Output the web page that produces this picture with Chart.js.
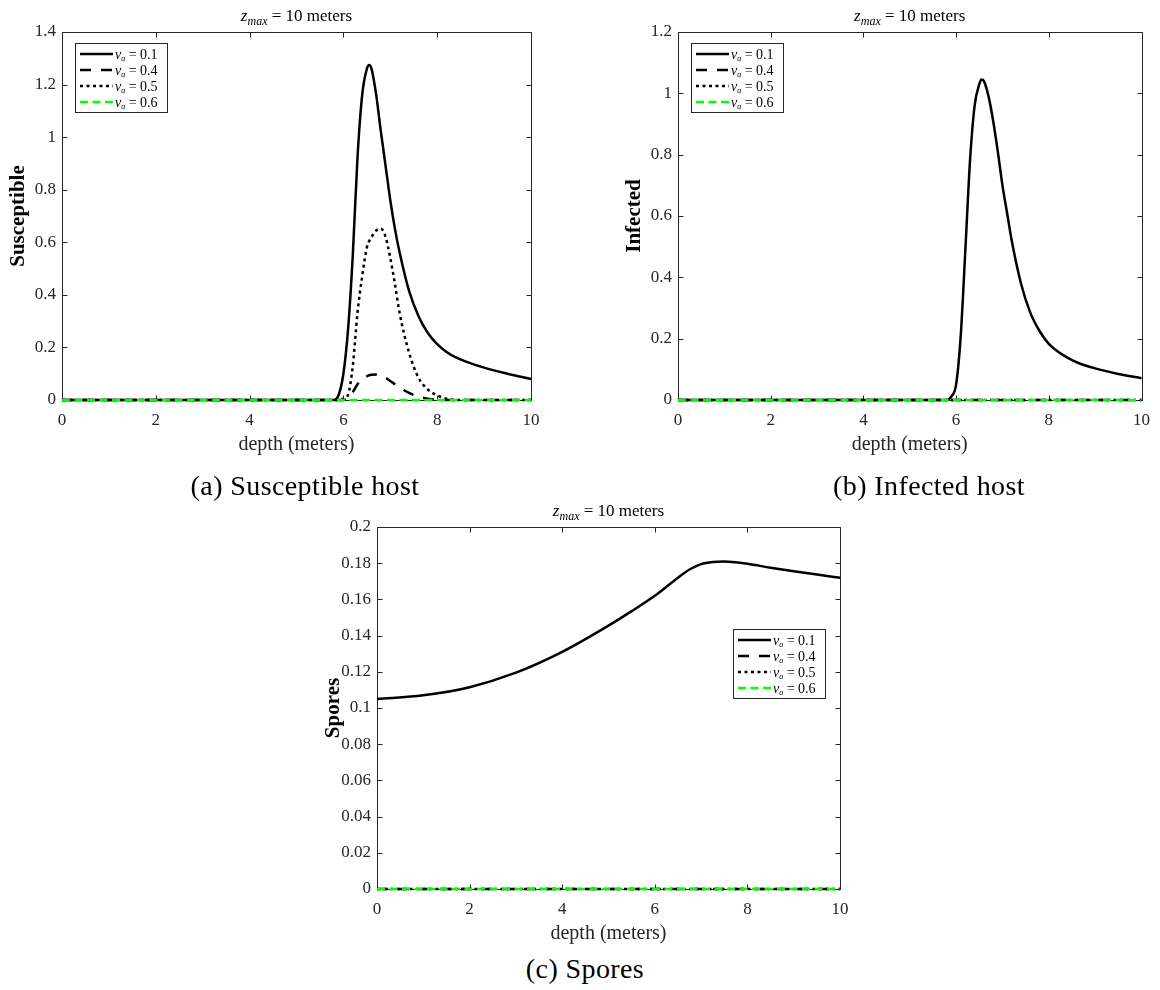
<!DOCTYPE html>
<html lang="en">
<head>
  <meta charset="utf-8">
  <title>Host and spore profiles against depth</title>
  <script src="https://cdn.jsdelivr.net/npm/chart.js@4.4.0/dist/chart.umd.min.js"></script>
  <style>
    body { margin: 0; background: #fff; width: 1160px; height: 990px; position: relative; overflow: hidden;
           font-family: "Liberation Serif", "Times New Roman", serif; }
    canvas { position: absolute; }
    .caption { position: absolute; font-size: 28px; letter-spacing: 0.4px; color: #000; white-space: nowrap; transform: translate(-50%, -50%); }
  </style>
</head>
<body>

  <canvas id="chartS" width="560" height="460" style="left:0;top:0"></canvas>
  <canvas id="chartI" width="544" height="460" style="left:616px;top:0"></canvas>
  <canvas id="chartP" width="560" height="454" style="left:315px;top:495px"></canvas>

  <div class="caption" style="left:305px;top:486px">(a) Susceptible host</div>
  <div class="caption" style="left:929px;top:486px">(b) Infected host</div>
  <div class="caption" style="left:585px;top:969px">(c) Spores</div>

  <script>
    // settling velocities shown in every panel
    var velocities = ['0.1', '0.4', '0.5', '0.6'];

    // (a) susceptible host
    var depthS = [0, 2, 4, 5.8, 5.9, 6.0, 6.1, 6.2, 6.3, 6.4, 6.5, 6.55, 6.6, 6.7, 6.8, 6.9, 7.0, 7.1, 7.2, 7.4, 7.6, 7.8, 8.0, 8.2, 8.4, 8.6, 9.0, 9.5, 10];
    var susceptible01 = [0, 0, 0, 0, 0.02, 0.10, 0.27, 0.55, 0.92, 1.16, 1.26, 1.274, 1.26, 1.16, 1.02, 0.89, 0.76, 0.65, 0.56, 0.415, 0.32, 0.255, 0.213, 0.183, 0.162, 0.147, 0.123, 0.10, 0.08];
    var susceptible04 = [0, 0, 0, 0, 0, 0, 0.008, 0.03, 0.06, 0.08, 0.09, 0.094, 0.096, 0.097, 0.093, 0.085, 0.072, 0.06, 0.047, 0.027, 0.013, 0.005, 0.001, 0, 0, 0, 0, 0, 0];
    var susceptible05 = [0, 0, 0, 0, 0, 0.005, 0.02, 0.13, 0.33, 0.47, 0.58, 0.605, 0.62, 0.645, 0.652, 0.62, 0.54, 0.44, 0.33, 0.18, 0.085, 0.04, 0.018, 0.005, 0, 0, 0, 0, 0];
    var susceptible06 = [0, 0, 0, 0, 0, 0, 0, 0, 0, 0, 0, 0, 0, 0, 0, 0, 0, 0, 0, 0, 0, 0, 0, 0, 0, 0, 0, 0, 0];

    // (b) infected host
    var depthI = [0, 2, 4, 5.8, 5.9, 6.0, 6.1, 6.2, 6.3, 6.4, 6.5, 6.55, 6.6, 6.7, 6.8, 6.9, 7.0, 7.1, 7.2, 7.4, 7.6, 7.8, 8.0, 8.2, 8.4, 8.6, 9.0, 9.5, 10];
    var infected01 = [0, 0, 0, 0, 0.012, 0.05, 0.21, 0.49, 0.78, 0.96, 1.03, 1.045, 1.04, 0.99, 0.91, 0.81, 0.70, 0.61, 0.52, 0.38, 0.285, 0.225, 0.183, 0.157, 0.138, 0.123, 0.103, 0.085, 0.071];
    var infected04 = [0, 0, 0, 0, 0, 0, 0, 0, 0, 0, 0, 0, 0, 0, 0, 0, 0, 0, 0, 0, 0, 0, 0, 0, 0, 0, 0, 0, 0];
    var infected05 = [0, 0, 0, 0, 0, 0, 0, 0, 0, 0, 0, 0, 0, 0, 0, 0, 0, 0, 0, 0, 0, 0, 0, 0, 0, 0, 0, 0, 0];
    var infected06 = [0, 0, 0, 0, 0, 0, 0, 0, 0, 0, 0, 0, 0, 0, 0, 0, 0, 0, 0, 0, 0, 0, 0, 0, 0, 0, 0, 0, 0];

    // (c) spores
    var depthP = [0, 1, 2, 3, 4, 5, 5.5, 6, 6.5, 6.75, 7, 7.25, 7.5, 8, 8.5, 9, 9.5, 10];
    var spores01 = [0.105, 0.107, 0.1115, 0.1195, 0.131, 0.1455, 0.1535, 0.162, 0.172, 0.1765, 0.1795, 0.1807, 0.181, 0.1797, 0.1775, 0.1755, 0.1737, 0.172];
    var spores04 = [0, 0, 0, 0, 0, 0, 0, 0, 0, 0, 0, 0, 0, 0, 0, 0, 0, 0];
    var spores05 = [0, 0, 0, 0, 0, 0, 0, 0, 0, 0, 0, 0, 0, 0, 0, 0, 0, 0];
    var spores06 = [0, 0, 0, 0, 0, 0, 0, 0, 0, 0, 0, 0, 0, 0, 0, 0, 0, 0];

    var xTicks = [0, 2, 4, 6, 8, 10];

    var SERIF = '"Liberation Serif", "Times New Roman", serif';
    var INK = '#262626';

    // line look per velocity: solid, dashed, dotted, green dashed
    var lineStyles = [
      { color: '#000000', dash: [] },
      { color: '#000000', dash: [11, 10] },
      { color: '#000000', dash: [3, 3.5] },
      { color: '#00ff00', dash: [8, 4.5] }
    ];

    // draws text pieces like v_a or z_max with italic and subscripts
    function mathText(ctx, parts, x, y, align) {
      var total = 0;
      parts.forEach(function (p) {
        ctx.font = (p.italic ? 'italic ' : '') + p.size + 'px ' + SERIF;
        p.w = ctx.measureText(p.t).width;
        total += p.w;
      });
      var cx = align === 'center' ? x - total / 2 : x;
      ctx.textBaseline = 'alphabetic';
      ctx.textAlign = 'left';
      parts.forEach(function (p) {
        ctx.font = (p.italic ? 'italic ' : '') + p.size + 'px ' + SERIF;
        ctx.fillText(p.t, cx, y + (p.sub ? p.drop : 0));
        cx += p.w;
      });
    }

    // axes box with inward ticks on all four sides, heading and legend
    var framePlugin = {
      id: 'frame',
      beforeDatasetsDraw: function (chart) {
        var ctx = chart.ctx, a = chart.chartArea;
        var sx = chart.scales.x, sy = chart.scales.y;
        var L = Math.round(a.left) + 0.5, R = Math.round(a.right) + 0.5;
        var T = Math.round(a.top) + 0.5, B = Math.round(a.bottom) + 0.5;
        ctx.save();
        ctx.strokeStyle = INK;
        ctx.lineWidth = 1;
        ctx.beginPath();
        ctx.rect(L, T, R - L, B - T);
        sx.ticks.forEach(function (t) {
          var px = Math.round(sx.getPixelForValue(t.value)) + 0.5;
          ctx.moveTo(px, B); ctx.lineTo(px, B - 5);
          ctx.moveTo(px, T); ctx.lineTo(px, T + 5);
        });
        sy.ticks.forEach(function (t) {
          var py = Math.round(sy.getPixelForValue(t.value)) + 0.5;
          ctx.moveTo(L, py); ctx.lineTo(L + 5, py);
          ctx.moveTo(R, py); ctx.lineTo(R - 5, py);
        });
        ctx.stroke();
        ctx.restore();
      },
      afterDraw: function (chart) {
        var ctx = chart.ctx, a = chart.chartArea;
        ctx.save();
        ctx.fillStyle = '#000';
        // panel heading
        mathText(ctx, [
          { t: 'z', italic: true, size: 17 },
          { t: 'max', italic: true, size: 12, sub: true, drop: 4 },
          { t: ' = 10 meters', size: 17 }
        ], (a.left + a.right) / 2, a.top - 11, 'center');

        // legend box
        var o = chart.options.plugins.frame;
        var w = 92, h = 69;
        var left = o.side === 'right' ? a.right - o.dx - w : a.left + o.dx;
        var top = a.top + o.dy;
        ctx.fillStyle = '#fff';
        ctx.fillRect(left, top, w, h);
        ctx.strokeStyle = INK;
        ctx.lineWidth = 1;
        ctx.strokeRect(Math.round(left) + 0.5, Math.round(top) + 0.5, w, h);
        chart.data.datasets.forEach(function (ds, i) {
          var yy = top + 11 + i * 16;
          ctx.strokeStyle = ds.borderColor;
          ctx.lineWidth = ds.borderWidth;
          ctx.setLineDash(ds.borderDash);
          ctx.beginPath();
          ctx.moveTo(left + 5, yy);
          ctx.lineTo(left + 38, yy);
          ctx.stroke();
          ctx.setLineDash([]);
          ctx.fillStyle = '#000';
          mathText(ctx, [
            { t: 'v', italic: true, size: 14 },
            { t: 'a', italic: true, size: 8, sub: true, drop: 2 },
            { t: ' = ' + velocities[i], size: 14 }
          ], left + 40, yy + 4.5, 'left');
        });
        ctx.restore();
      }
    };

    function makePanel(id, depth, series, yMax, yStep, yTitle, legend) {
      var datasets = series.map(function (vals, i) {
        return {
          label: 'v_a = ' + velocities[i],
          data: vals.map(function (v, k) { return { x: depth[k], y: v }; }),
          borderColor: lineStyles[i].color,
          borderDash: lineStyles[i].dash,
          borderWidth: 2.5,
          pointRadius: 0,
          fill: false,
          cubicInterpolationMode: 'monotone',
          clip: false,
          order: series.length - i
        };
      });

      return new Chart(document.getElementById(id), {
        type: 'line',
        data: { datasets: datasets },
        options: {
          responsive: false,
          animation: false,
          layout: { padding: { top: 32, right: legend.padRight, bottom: 0, left: 0 } },
          plugins: {
            legend: { display: false },
            tooltip: { enabled: false },
            frame: legend
          },
          scales: {
            x: {
              type: 'linear',
              min: 0,
              max: 10,
              afterBuildTicks: function (scale) {
                scale.ticks = xTicks.map(function (v) { return { value: v }; });
              },
              afterFit: function (scale) { scale.height = legend.xHeight; },
              grid: { display: false, drawTicks: false },
              border: { display: false },
              ticks: {
                padding: 10,
                color: INK,
                font: { family: SERIF, size: 17 },
                maxRotation: 0
              },
              title: {
                display: true,
                text: 'depth (meters)',
                color: INK,
                font: { family: SERIF, size: 20, lineHeight: 1.2 },
                padding: { top: 0, bottom: 3.5 }
              }
            },
            y: {
              type: 'linear',
              min: 0,
              max: yMax,
              afterFit: function (scale) { scale.width = 62; },
              grid: { display: false, drawTicks: false },
              border: { display: false },
              ticks: {
                stepSize: yStep,
                padding: 6,
                color: INK,
                font: { family: SERIF, size: 17 },
                callback: function (v) { return String(+v.toFixed(2)); }
              },
              title: {
                display: true,
                text: yTitle,
                color: '#000',
                font: { family: SERIF, size: 21, weight: 'bold', lineHeight: 1.2 },
                padding: { top: 6, bottom: 0 }
              }
            }
          }
        },
        plugins: [framePlugin]
      });
    }

    makePanel('chartS', depthS, [susceptible01, susceptible04, susceptible05, susceptible06],
      1.4, 0.2, 'Susceptible',
      { side: 'left', dx: 13, dy: 11, padRight: 29, xHeight: 60 });

    makePanel('chartI', depthI, [infected01, infected04, infected05, infected06],
      1.2, 0.2, 'Infected',
      { side: 'left', dx: 13, dy: 11, padRight: 13, xHeight: 60 });

    makePanel('chartP', depthP, [spores01, spores04, spores05, spores06],
      0.2, 0.02, 'Spores',
      { side: 'right', dx: 15, dy: 102, padRight: 35, xHeight: 60 });
  </script>
</body>
</html>
